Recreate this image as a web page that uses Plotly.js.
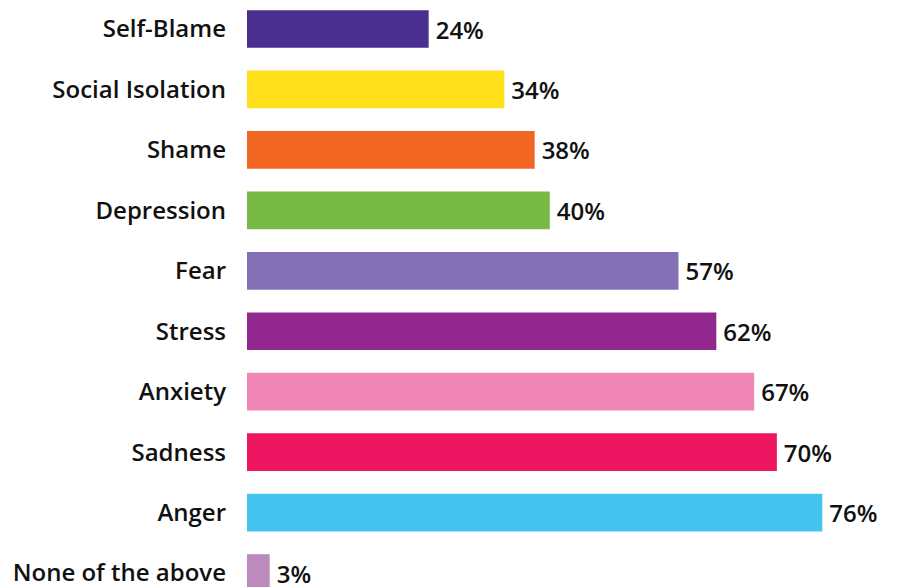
<!DOCTYPE html>
<html>
<head>
<meta charset="utf-8">
<script src="https://cdn.plot.ly/plotly-3.0.1.min.js"></script>
<style>html,body{margin:0;padding:0;background:#fff;}#chart{width:898px;height:587px;}</style>
</head>
<body>
<div id="chart"></div>
<script>
var categories = ["Self-Blame","Social Isolation","Shame","Depression","Fear","Stress","Anxiety","Sadness","Anger","None of the above"];
var values = [24,34,38,40,57,62,67,70,76,3];
var colors = ["#4A2F90","#FEDF1A","#F26624","#77B944","#8471B5","#92278F","#EF86B5","#EE1660","#42C4EE","#BD8ABD"];

var trace = {
  type: "bar",
  orientation: "h",
  y: categories,
  x: values,
  marker: {color: colors},
  text: values.map(function(v){return "\u2009" + v + "%";}),
  textposition: "outside",
  cliponaxis: false,
  textfont: {family: "Open Sans", size: 24, color: "#111111", weight: 600},
  hoverinfo: "none"
};

var layout = {
  width: 898,
  height: 587,
  margin: {l: 247, r: 0, t: 0, b: 0, pad: 0},
  paper_bgcolor: "#ffffff",
  plot_bgcolor: "#ffffff",
  showlegend: false,
  bargap: 0.376,
  xaxis: {range: [0, 86], visible: false, showgrid: false, zeroline: false},
  yaxis: {
    type: "category",
    range: [9.231, -0.48],
    showgrid: false, zeroline: false, showline: false,
    ticks: "",
    ticklabelstandoff: 20,
    tickfont: {family: "Open Sans", size: 24, color: "#111111", weight: 600}
  }
};

Plotly.newPlot("chart", [trace], layout, {displayModeBar: false, staticPlot: true});
</script>
</body>
</html>
